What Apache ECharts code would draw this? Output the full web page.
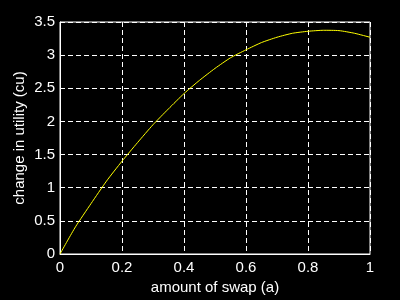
<!DOCTYPE html>
<html>
<head>
<meta charset="utf-8">
<script src="https://cdn.jsdelivr.net/npm/echarts@6/dist/echarts.min.js"></script>
<style>
html,body{margin:0;padding:0;background:#000;}
#c{width:400px;height:300px;}
</style>
</head>
<body>
<div id="c"></div>
<script>
var swapAmount = [0, 0.05, 0.1, 0.15, 0.2, 0.25, 0.3, 0.35, 0.4, 0.45, 0.5, 0.55, 0.6, 0.65, 0.7, 0.75, 0.8, 0.85, 0.9, 0.95, 1.0];
var utilityChange = [0, 0.41, 0.76, 1.10, 1.40, 1.68, 1.95, 2.19, 2.42, 2.62, 2.80, 2.96, 3.08, 3.19, 3.27, 3.33, 3.36, 3.375, 3.37, 3.33, 3.27];
var xLabel = 'amount of swap (a)';
var yLabel = 'change in utility (cu)';

var pts = swapAmount.map(function (x, i) { return [x, utilityChange[i]]; });
var font = 'Liberation Sans';
var chart = echarts.init(document.getElementById('c'), null, {renderer: 'canvas'});
chart.setOption({
  backgroundColor: '#000',
  animation: false,
  grid: {left: 60, top: 22, right: 30, bottom: 46, show: true, borderColor: '#fff', borderWidth: 1, backgroundColor: '#000'},
  xAxis: {
    type: 'value', min: 0, max: 1, interval: 0.2,
    name: xLabel, nameLocation: 'middle', nameGap: 26, nameMoveOverlap: false,
    nameTextStyle: {color: '#fff', fontFamily: font, fontSize: 15},
    axisLine: {show: true, lineStyle: {color: '#fff', width: 1}},
    axisTick: {show: false},
    axisLabel: {color: '#fff', fontFamily: font, fontSize: 15, margin: 6,
      formatter: function (v) { return String(Math.round(v * 10) / 10); }},
    splitLine: {show: true, lineStyle: {color: '#fff', type: [5, 3], width: 1}}
  },
  yAxis: {
    type: 'value', min: 0, max: 3.5, interval: 0.5,
    name: yLabel, nameLocation: 'middle', nameGap: 33, nameMoveOverlap: false,
    nameTextStyle: {color: '#fff', fontFamily: font, fontSize: 15},
    axisLine: {show: true, lineStyle: {color: '#fff', width: 1}},
    axisTick: {show: false},
    axisLabel: {color: '#fff', fontFamily: font, fontSize: 15, margin: 5,
      formatter: function (v) { return String(Math.round(v * 10) / 10); }},
    splitLine: {show: true, lineStyle: {color: '#fff', type: [5, 3], width: 1}}
  },
  series: [{
    type: 'line', data: pts, smooth: 0.2, showSymbol: false,
    lineStyle: {color: '#ffff00', width: 1}
  }]
});
</script>
</body>
</html>
